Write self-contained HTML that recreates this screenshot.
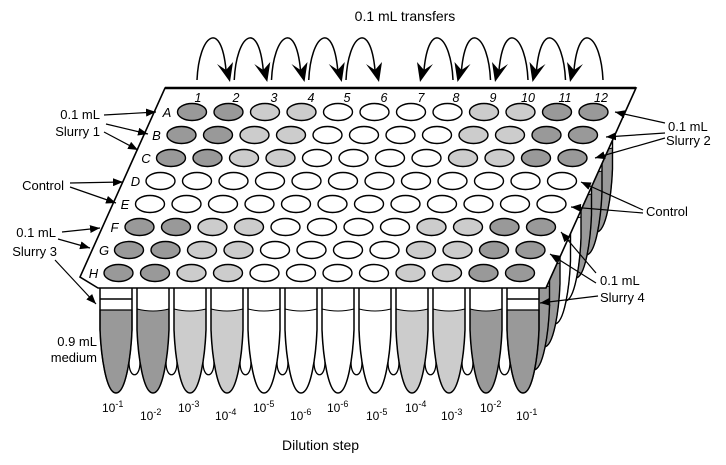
<!DOCTYPE html>
<html><head><meta charset="utf-8"><style>
html,body{margin:0;padding:0;background:#fff;width:726px;height:465px;overflow:hidden}
svg{display:block}
text{font-family:"Liberation Sans",Arial,sans-serif;fill:#000}
.d{fill:#999}.l{fill:#ccc}.w{fill:#fff}
.wl{stroke:#000;stroke-width:1.4}
</style></head><body>
<svg width="726" height="465" viewBox="0 0 726 465" xmlns="http://www.w3.org/2000/svg">
<defs>
<marker id="ah" viewBox="0 0 10 8" refX="10" refY="4" markerWidth="10" markerHeight="8" markerUnits="userSpaceOnUse" orient="auto"><path d="M0 0 L10 4 L0 8 Z" fill="#000"/></marker>
<path id="tb" d="M0 0 V42 C1 67 6 105 16 105 C26 105 31 67 32 42 V0 Z"/>
<path id="tl" d="M0 21 Q16 25 32 21 V42 C31 67 26 105 16 105 C6 105 1 67 0 42 Z"/>
<path id="ts" d="M0 22 H32 V42 C31 67 26 105 16 105 C6 105 1 67 0 42 Z"/>
<path id="to" d="M0 0 V42 C1 67 6 105 16 105 C26 105 31 67 32 42 V0"/>
<ellipse id="e" cx="0" cy="0" rx="14.5" ry="8.5"/>
</defs>

<!-- title -->
<text x="405" y="21" font-size="14" text-anchor="middle">0.1 mL transfers</text>

<!-- transfer arcs -->
<g fill="none" stroke="#000" stroke-width="1.5">
<path d="M197 80 C199 35 221 18 226 70"/>
<path d="M234.25 80 C236.25 35 258.25 18 263.25 70"/>
<path d="M271.5 80 C273.5 35 295.5 18 300.5 70"/>
<path d="M308.75 80 C310.75 35 332.75 18 337.75 70"/>
<path d="M346 80 C348 35 370 18 375 70"/>
<path d="M453 80 C451 35 429 18 424 70"/>
<path d="M490.5 80 C488.5 35 466.5 18 461.5 70"/>
<path d="M528 80 C526 35 504 18 499 70"/>
<path d="M565.5 80 C563.5 35 541.5 18 536.5 70"/>
<path d="M603 80 C601 35 579 18 574 70"/>
</g>
<g fill="#000">
<polygon points="217,64 230,82 233,62 226,70"/>
<polygon points="254.25,64 267.25,82 270.25,62 263.25,70"/>
<polygon points="291.5,64 304.5,82 307.5,62 300.5,70"/>
<polygon points="328.75,64 341.75,82 344.75,62 337.75,70"/>
<polygon points="366,64 379,82 382,62 375,70"/>
<polygon points="433,64 420,82 417,62 424,70"/>
<polygon points="470.5,64 457.5,82 454.5,62 461.5,70"/>
<polygon points="508,64 495,82 492,62 499,70"/>
<polygon points="545.5,64 532.5,82 529.5,62 536.5,70"/>
<polygon points="583,64 570,82 567,62 574,70"/>
</g>

<!-- side tubes (column 12, rows A..G) -->
<g stroke="#000">
<g transform="translate(580.5,127)"><use href="#tb" fill="#fff" stroke="none"/><use href="#tl" class="d" stroke-width="1"/><use href="#to" fill="none" stroke-width="1.4"/></g>
<g transform="translate(570,150)"><use href="#tb" fill="#fff" stroke="none"/><use href="#tl" class="d" stroke-width="1"/><use href="#to" fill="none" stroke-width="1.4"/></g>
<g transform="translate(559.5,173)"><use href="#tb" fill="#fff" stroke="none"/><use href="#tl" class="d" stroke-width="1"/><use href="#to" fill="none" stroke-width="1.4"/></g>
<g transform="translate(549,196)"><use href="#tb" fill="#fff" stroke="none"/><use href="#tl" class="w" stroke-width="1"/><use href="#to" fill="none" stroke-width="1.4"/></g>
<g transform="translate(538.5,219)"><use href="#tb" fill="#fff" stroke="none"/><use href="#tl" class="w" stroke-width="1"/><use href="#to" fill="none" stroke-width="1.4"/></g>
<g transform="translate(528,242)"><use href="#tb" fill="#fff" stroke="none"/><use href="#tl" class="d" stroke-width="1"/><use href="#to" fill="none" stroke-width="1.4"/></g>
<g transform="translate(517.5,265)"><use href="#tb" fill="#fff" stroke="none"/><use href="#tl" class="d" stroke-width="1"/><use href="#to" fill="none" stroke-width="1.4"/></g>
</g>

<!-- webbing loops -->
<g fill="#fff" stroke="#000" stroke-width="1.3">
<path d="M129 362 C129 379 140 379 140 362"/>
<path d="M166 362 C166 379 177 379 177 362"/>
<path d="M203 362 C203 379 214 379 214 362"/>
<path d="M240 362 C240 379 251 379 251 362"/>
<path d="M277 362 C277 379 288 379 288 362"/>
<path d="M314 362 C314 379 325 379 325 362"/>
<path d="M351 362 C351 379 362 379 362 362"/>
<path d="M388 362 C388 379 399 379 399 362"/>
<path d="M425 362 C425 379 436 379 436 362"/>
<path d="M462 362 C462 379 473 379 473 362"/>
<path d="M499 362 C499 379 510 379 510 362"/>
</g>

<!-- front tubes -->
<g stroke="#000">
<g transform="translate(100,288)"><use href="#tb" fill="#fff" stroke="none"/><use href="#ts" class="d" stroke-width="1.2"/><path d="M0 11 H32" stroke-width="1.5"/><use href="#to" fill="none" stroke-width="1.5"/></g>
<g transform="translate(137,288)"><use href="#tb" fill="#fff" stroke="none"/><use href="#tl" class="d" stroke-width="1"/><use href="#to" fill="none" stroke-width="1.5"/></g>
<g transform="translate(174,288)"><use href="#tb" fill="#fff" stroke="none"/><use href="#tl" class="l" stroke-width="1"/><use href="#to" fill="none" stroke-width="1.5"/></g>
<g transform="translate(211,288)"><use href="#tb" fill="#fff" stroke="none"/><use href="#tl" class="l" stroke-width="1"/><use href="#to" fill="none" stroke-width="1.5"/></g>
<g transform="translate(248,288)"><use href="#tb" fill="#fff" stroke="none"/><use href="#tl" class="w" stroke-width="1"/><use href="#to" fill="none" stroke-width="1.5"/></g>
<g transform="translate(285,288)"><use href="#tb" fill="#fff" stroke="none"/><use href="#tl" class="w" stroke-width="1"/><use href="#to" fill="none" stroke-width="1.5"/></g>
<g transform="translate(322,288)"><use href="#tb" fill="#fff" stroke="none"/><use href="#tl" class="w" stroke-width="1"/><use href="#to" fill="none" stroke-width="1.5"/></g>
<g transform="translate(359,288)"><use href="#tb" fill="#fff" stroke="none"/><use href="#tl" class="w" stroke-width="1"/><use href="#to" fill="none" stroke-width="1.5"/></g>
<g transform="translate(396,288)"><use href="#tb" fill="#fff" stroke="none"/><use href="#tl" class="l" stroke-width="1"/><use href="#to" fill="none" stroke-width="1.5"/></g>
<g transform="translate(433,288)"><use href="#tb" fill="#fff" stroke="none"/><use href="#tl" class="l" stroke-width="1"/><use href="#to" fill="none" stroke-width="1.5"/></g>
<g transform="translate(470,288)"><use href="#tb" fill="#fff" stroke="none"/><use href="#tl" class="d" stroke-width="1"/><use href="#to" fill="none" stroke-width="1.5"/></g>
<g transform="translate(507,288)"><use href="#tb" fill="#fff" stroke="none"/><use href="#ts" class="d" stroke-width="1.2"/><path d="M0 11 H32" stroke-width="1.5"/><use href="#to" fill="none" stroke-width="1.5"/></g>
</g>

<!-- plate -->
<polygon points="165,88 636,88 546,288 98,288 80,277" fill="#fff" stroke="#000" stroke-width="1.6" stroke-linejoin="miter"/>
<line x1="165" y1="88" x2="636" y2="88" stroke="#000" stroke-width="2.4"/>

<!-- column numbers -->
<g font-size="12.5" font-style="italic" text-anchor="middle">
<text x="198" y="102">1</text><text x="236" y="102">2</text><text x="274" y="102">3</text><text x="311" y="102">4</text>
<text x="347" y="102">5</text><text x="384" y="102">6</text><text x="421" y="102">7</text><text x="456" y="102">8</text>
<text x="493" y="102">9</text><text x="528" y="102">10</text><text x="565" y="102">11</text><text x="601" y="102">12</text>
</g>
<!-- row letters -->
<g font-size="13" font-style="italic" text-anchor="middle">
<text x="167" y="117">A</text><text x="156.5" y="140">B</text><text x="146" y="163">C</text><text x="135.5" y="186">D</text>
<text x="125" y="209">E</text><text x="114.5" y="232">F</text><text x="104" y="255">G</text><text x="93.5" y="278">H</text>
</g>

<!-- wells -->
<g class="wl" stroke="#000" stroke-width="1.4">
<g transform="translate(192,112)"><use href="#e" class="d" x="0"/><use href="#e" class="d" x="36.5"/><use href="#e" class="l" x="73"/><use href="#e" class="l" x="109.5"/><use href="#e" class="w" x="146"/><use href="#e" class="w" x="182.5"/><use href="#e" class="w" x="219"/><use href="#e" class="w" x="255.5"/><use href="#e" class="l" x="292"/><use href="#e" class="l" x="328.5"/><use href="#e" class="d" x="365"/><use href="#e" class="d" x="401.5"/></g>
<g transform="translate(181.5,135)"><use href="#e" class="d" x="0"/><use href="#e" class="d" x="36.5"/><use href="#e" class="l" x="73"/><use href="#e" class="l" x="109.5"/><use href="#e" class="w" x="146"/><use href="#e" class="w" x="182.5"/><use href="#e" class="w" x="219"/><use href="#e" class="w" x="255.5"/><use href="#e" class="l" x="292"/><use href="#e" class="l" x="328.5"/><use href="#e" class="d" x="365"/><use href="#e" class="d" x="401.5"/></g>
<g transform="translate(171,158)"><use href="#e" class="d" x="0"/><use href="#e" class="d" x="36.5"/><use href="#e" class="l" x="73"/><use href="#e" class="l" x="109.5"/><use href="#e" class="w" x="146"/><use href="#e" class="w" x="182.5"/><use href="#e" class="w" x="219"/><use href="#e" class="w" x="255.5"/><use href="#e" class="l" x="292"/><use href="#e" class="l" x="328.5"/><use href="#e" class="d" x="365"/><use href="#e" class="d" x="401.5"/></g>
<g transform="translate(160.5,181)"><use href="#e" class="w" x="0"/><use href="#e" class="w" x="36.5"/><use href="#e" class="w" x="73"/><use href="#e" class="w" x="109.5"/><use href="#e" class="w" x="146"/><use href="#e" class="w" x="182.5"/><use href="#e" class="w" x="219"/><use href="#e" class="w" x="255.5"/><use href="#e" class="w" x="292"/><use href="#e" class="w" x="328.5"/><use href="#e" class="w" x="365"/><use href="#e" class="w" x="401.5"/></g>
<g transform="translate(150,204)"><use href="#e" class="w" x="0"/><use href="#e" class="w" x="36.5"/><use href="#e" class="w" x="73"/><use href="#e" class="w" x="109.5"/><use href="#e" class="w" x="146"/><use href="#e" class="w" x="182.5"/><use href="#e" class="w" x="219"/><use href="#e" class="w" x="255.5"/><use href="#e" class="w" x="292"/><use href="#e" class="w" x="328.5"/><use href="#e" class="w" x="365"/><use href="#e" class="w" x="401.5"/></g>
<g transform="translate(139.5,227)"><use href="#e" class="d" x="0"/><use href="#e" class="d" x="36.5"/><use href="#e" class="l" x="73"/><use href="#e" class="l" x="109.5"/><use href="#e" class="w" x="146"/><use href="#e" class="w" x="182.5"/><use href="#e" class="w" x="219"/><use href="#e" class="w" x="255.5"/><use href="#e" class="l" x="292"/><use href="#e" class="l" x="328.5"/><use href="#e" class="d" x="365"/><use href="#e" class="d" x="401.5"/></g>
<g transform="translate(129,250)"><use href="#e" class="d" x="0"/><use href="#e" class="d" x="36.5"/><use href="#e" class="l" x="73"/><use href="#e" class="l" x="109.5"/><use href="#e" class="w" x="146"/><use href="#e" class="w" x="182.5"/><use href="#e" class="w" x="219"/><use href="#e" class="w" x="255.5"/><use href="#e" class="l" x="292"/><use href="#e" class="l" x="328.5"/><use href="#e" class="d" x="365"/><use href="#e" class="d" x="401.5"/></g>
<g transform="translate(118.5,273)"><use href="#e" class="d" x="0"/><use href="#e" class="d" x="36.5"/><use href="#e" class="l" x="73"/><use href="#e" class="l" x="109.5"/><use href="#e" class="w" x="146"/><use href="#e" class="w" x="182.5"/><use href="#e" class="w" x="219"/><use href="#e" class="w" x="255.5"/><use href="#e" class="l" x="292"/><use href="#e" class="l" x="328.5"/><use href="#e" class="d" x="365"/><use href="#e" class="d" x="401.5"/></g>
</g>

<!-- labels -->
<g font-size="13">
<text x="100" y="119" text-anchor="end">0.1 mL</text>
<text x="100" y="136" text-anchor="end">Slurry 1</text>
<text x="64" y="190" text-anchor="end">Control</text>
<text x="56" y="237" text-anchor="end">0.1 mL</text>
<text x="57" y="256" text-anchor="end">Slurry 3</text>
<text x="97" y="346" text-anchor="end">0.9 mL</text>
<text x="97" y="362" text-anchor="end">medium</text>
<text x="668" y="131">0.1 mL</text>
<text x="666" y="145">Slurry 2</text>
<text x="646" y="216">Control</text>
<text x="600" y="285">0.1 mL</text>
<text x="600" y="302">Slurry 4</text>
</g>

<!-- label arrows -->
<g stroke="#000" stroke-width="1.2" fill="none" marker-end="url(#ah)">
<line x1="104" y1="115" x2="156" y2="112"/>
<line x1="106" y1="124" x2="148" y2="134"/>
<line x1="104" y1="132" x2="138" y2="150"/>
<line x1="70" y1="183" x2="123" y2="182"/>
<line x1="70" y1="187" x2="116" y2="203"/>
<line x1="62" y1="232" x2="100" y2="228"/>
<line x1="58" y1="239" x2="90" y2="248"/>
<line x1="55" y1="260" x2="96" y2="304"/>
<line x1="665" y1="123" x2="615" y2="112"/>
<line x1="665" y1="133" x2="606" y2="137"/>
<line x1="665" y1="138" x2="595" y2="158"/>
<line x1="643" y1="210" x2="581" y2="182"/>
<line x1="643" y1="213" x2="571" y2="207"/>
<line x1="596" y1="273" x2="561" y2="232"/>
<line x1="596" y1="283" x2="550" y2="254"/>
<line x1="598" y1="296" x2="540" y2="303"/>
</g>

<!-- dilution labels -->
<g font-size="12">
<text x="102" y="412">10<tspan dy="-5" font-size="9">-1</tspan></text>
<text x="140" y="420">10<tspan dy="-5" font-size="9">-2</tspan></text>
<text x="178" y="412">10<tspan dy="-5" font-size="9">-3</tspan></text>
<text x="215" y="420">10<tspan dy="-5" font-size="9">-4</tspan></text>
<text x="253" y="412">10<tspan dy="-5" font-size="9">-5</tspan></text>
<text x="290" y="420">10<tspan dy="-5" font-size="9">-6</tspan></text>
<text x="327" y="412">10<tspan dy="-5" font-size="9">-6</tspan></text>
<text x="366" y="420">10<tspan dy="-5" font-size="9">-5</tspan></text>
<text x="405" y="412">10<tspan dy="-5" font-size="9">-4</tspan></text>
<text x="441" y="420">10<tspan dy="-5" font-size="9">-3</tspan></text>
<text x="480" y="412">10<tspan dy="-5" font-size="9">-2</tspan></text>
<text x="516" y="420">10<tspan dy="-5" font-size="9">-1</tspan></text>
</g>
<text x="282" y="450" font-size="14">Dilution step</text>
</svg>
</body></html>
